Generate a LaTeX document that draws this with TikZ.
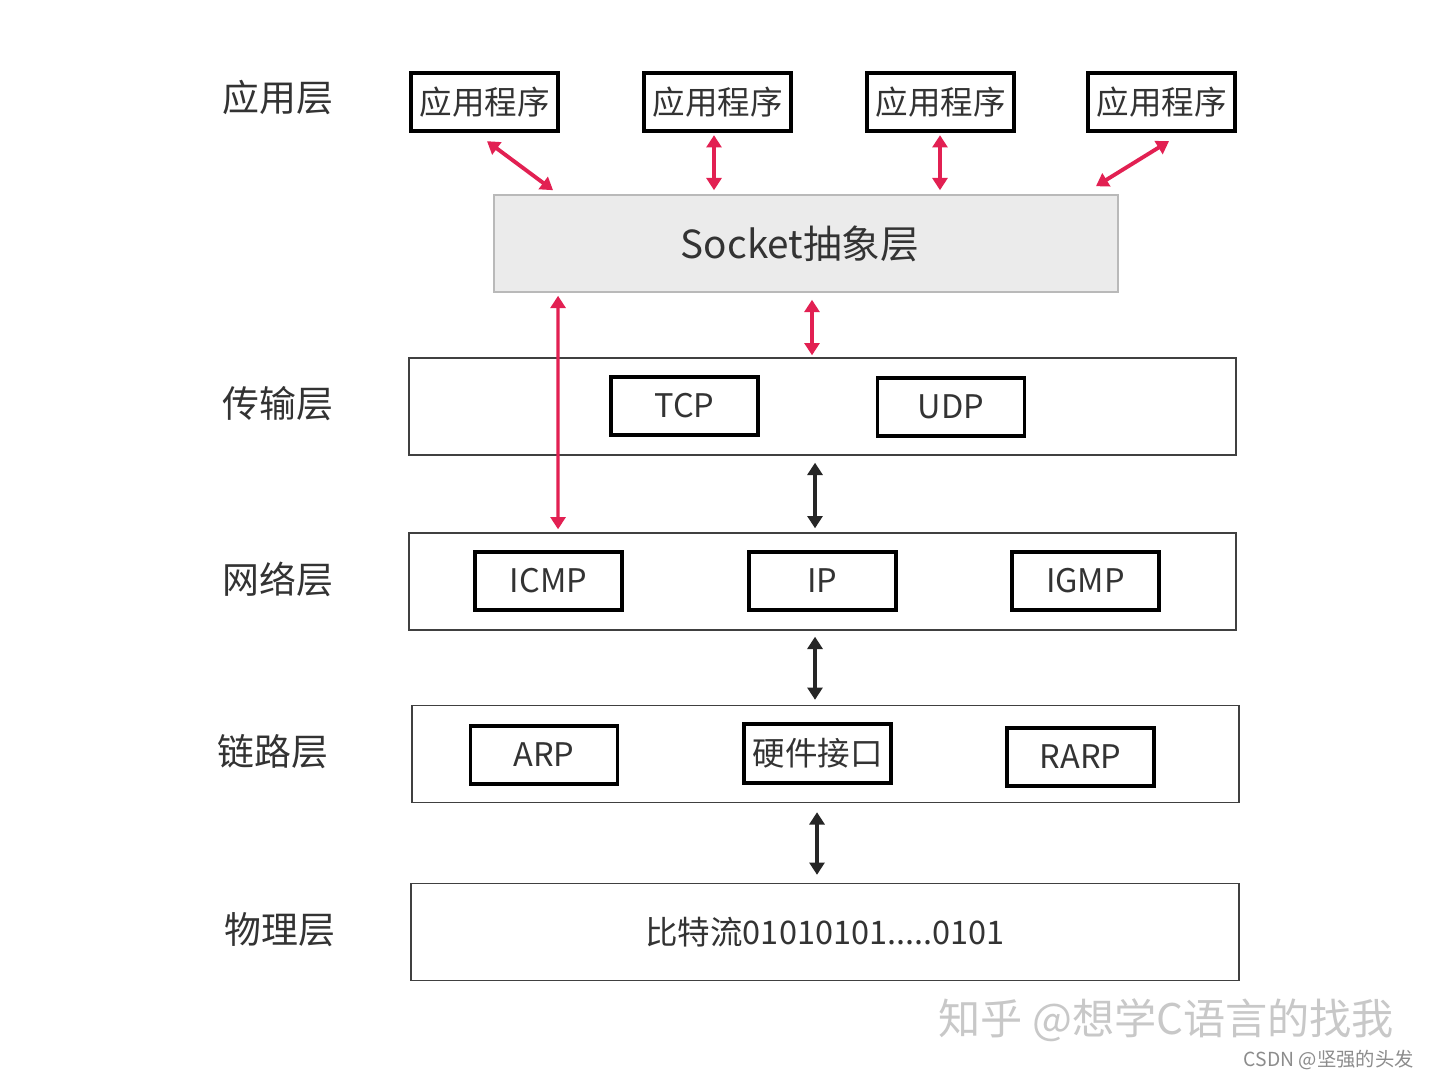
\documentclass[tikz,border=0pt]{standalone}
\usepackage{fontspec}
\setmainfont{Noto Sans CJK SC}
\usetikzlibrary{arrows.meta}
\definecolor{arrred}{RGB}{226,32,82}
\definecolor{txt}{RGB}{51,51,51}
\definecolor{sockfill}{RGB}{235,235,235}
\definecolor{sockline}{RGB}{185,185,185}
\definecolor{wm}{RGB}{200,200,200}
\tikzset{
  layerlabel/.style={text=txt,font=\fontsize{21pt}{24pt}\selectfont,inner sep=0pt},
  appbox/.style={draw=black,line width=2.2pt,minimum width=2.94cm,minimum height=1.17cm,inner sep=0pt,text=txt,font=\fontsize{18.5pt}{20pt}\selectfont},
  protobox/.style={appbox},
  layerbox/.style={draw=black!75,line width=0.8pt,minimum width=16.54cm,minimum height=1.94cm,inner sep=0pt,text=txt,font=\fontsize{18.5pt}{20pt}\selectfont},
  sockbox/.style={draw=sockline,fill=sockfill,line width=0.9pt,minimum width=12.48cm,minimum height=1.94cm,inner sep=0pt,text=txt,font=\fontsize{22pt}{24pt}\selectfont},
  redarrow/.style={draw=arrred,line width=2.2pt,{Triangle[length=7pt,width=8.5pt]}-{Triangle[length=7pt,width=8.5pt]}},
  blkarrow/.style={draw=black!85,line width=2.2pt,{Triangle[length=7pt,width=8.5pt]}-{Triangle[length=7pt,width=8.5pt]}},
}
\begin{document}
\begin{tikzpicture}[x=0.02cm,y=-0.02cm]
\useasboundingbox[fill=white] (0,0) rectangle (1429,1079);
% layer labels
\node[layerlabel] (lapp) at (278,97) {应用层};
\node[layerlabel] (ltrans) at (278,404) {传输层};
\node[layerlabel] (lnet) at (278,579) {网络层};
\node[layerlabel] (llink) at (273,752) {链路层};
\node[layerlabel] (lphys) at (280,930) {物理层};
% application boxes
\node[appbox] (app1) at (484.5,102) {应用程序};
\node[appbox] (app2) at (717.5,102) {应用程序};
\node[appbox] (app3) at (940.5,102) {应用程序};
\node[appbox] (app4) at (1161.5,102) {应用程序};
% socket
\node[sockbox] (sock) at (806,243.5) {\hspace*{-0.24cm}Socket抽象层};
% layers
\node[layerbox] (trans) at (822.5,406.5) {};
\node[layerbox] (net) at (822.5,581.5) {};
\node[layerbox] (link) at (825.5,754) {};
\node[layerbox,minimum width=16.56cm] (phys) at (825,932) {比特流01010101.....0101};
% protocol boxes
\node[protobox] (tcp) at (684.5,406) {TCP};
\node[protobox] (udp) at (951,407) {UDP};
\node[protobox] (icmp) at (548.5,581) {ICMP};
\node[protobox] (ip) at (822.5,581) {IP};
\node[protobox] (igmp) at (1085.5,581) {IGMP};
\node[protobox] (arp) at (544,755) {ARP};
\node[protobox] (hw) at (817.5,753.5) {硬件接口};
\node[protobox] (rarp) at (1080.5,757) {RARP};
% red arrows
\draw[redarrow] ([xshift=0.05cm,yshift=-0.16cm]app1.south) -- ([xshift=-5.06cm,yshift=0.08cm]sock.north);
\draw[redarrow] ([xshift=-0.07cm,yshift=-0.04cm]app2.south) -- ([xshift=-1.84cm,yshift=0.08cm]sock.north);
\draw[redarrow] ([xshift=-0.01cm,yshift=-0.04cm]app3.south) -- ([xshift=2.68cm,yshift=0.08cm]sock.north);
\draw[redarrow] ([xshift=0.15cm,yshift=-0.16cm]app4.south) -- ([xshift=5.8cm,yshift=0.16cm]sock.north);
\draw[redarrow,line width=1.9pt] ([xshift=-4.96cm,yshift=-0.06cm]sock.south) -- ([xshift=-5.29cm,yshift=0.06cm]net.north);
\draw[redarrow] ([xshift=0.12cm,yshift=-0.14cm]sock.south) -- ([xshift=-0.21cm,yshift=0.04cm]trans.north);
% black arrows
\draw[blkarrow] ([xshift=-0.15cm,yshift=-0.14cm]trans.south) -- ([xshift=-0.15cm,yshift=0.08cm]net.north);
\draw[blkarrow] ([xshift=-0.15cm,yshift=-0.12cm]net.south) -- ([xshift=-0.21cm,yshift=0.1cm]link.north);
\draw[blkarrow] ([xshift=-0.17cm,yshift=-0.18cm]link.south) -- ([xshift=-0.16cm,yshift=0.16cm]phys.north);
% watermarks
\node[text=wm,font=\fontsize{24pt}{27pt}\selectfont,inner sep=0pt,anchor=west] (wm1) at (938,1020) {知乎 @想学C语言的找我};
\node[text=black!45,font=\fontsize{11pt}{13pt}\selectfont,inner sep=0pt,anchor=east] (wm2) at (1414,1060) {CSDN @坚强的头发};
\end{tikzpicture}
\end{document}
